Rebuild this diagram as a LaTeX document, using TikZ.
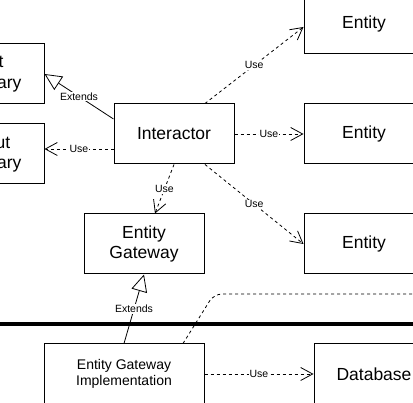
\documentclass[tikz,border=0pt]{standalone}
\usepackage{fontspec}
\setmainfont{Liberation Sans}
\usetikzlibrary{arrows.meta,calc}
\begin{document}
\begin{tikzpicture}[x=1pt,y=-1pt,
 box/.style={draw, line width=1pt, minimum width=120pt, minimum height=60pt, inner sep=0pt, align=center, font=\fontsize{17.5}{20.5}\selectfont},
 lbl/.style={fill=white, inner sep=1pt, font=\fontsize{10.5}{12}\selectfont},
 usearr/.style={line width=0.8pt, dash pattern=on 3pt off 3pt, -{Straight Barb[length=12pt,width=13pt,line width=0.8pt]}},
 extarr/.style={line width=0.8pt, -{Triangle[length=17pt,width=16pt,fill=white,line width=0.8pt]}},
 dashline/.style={line width=0.8pt, dash pattern=on 3pt off 3pt, rounded corners=8pt},
 sepline/.style={line width=3.5pt},
]
\useasboundingbox (0,0) rectangle (413,403);
\clip (0,0) rectangle (413,403);

\node[box] (inb) at (-16,74) {Input\\Boundary};
\node[box] (outb) at (-16,154) {Output\\Boundary};
\node[box] (inter) at (174,134) {Interactor};
\node[box] (ent1) at (364,24) {Entity};
\node[box] (ent2) at (364,134) {Entity};
\node[box] (ent3) at (364,244) {Entity};
\node[box] (eg) at (144,244) {Entity\\Gateway};
\node[box, minimum width=160pt, font=\fontsize{14}{16}\selectfont] (egi) at (124,374) {Entity Gateway\\Implementation};
\node[box] (db) at (374,374) {Database};

\coordinate (ou) at ($(inter.west)+(0,15)$);
\coordinate (bend) at (214,294);
\coordinate (far) at (440,294);
\coordinate (sepl) at (-10,324);
\coordinate (sepr) at (430,324);

\draw[extarr] ($(inter.west)+(0,-15)$) -- node[lbl]{Extends} (inb.east);
\draw[usearr] (ou) -- node[lbl]{Use} (ou -| outb.east);
\draw[usearr] ($(inter.north)+(31,0)$) -- node[lbl]{Use} ($(ent1.west)+(0,3)$);
\draw[usearr] (inter.east) -- node[lbl]{Use} (ent2.west);
\draw[usearr] ($(inter.south)+(31,0)$) -- node[lbl]{Use} (ent3.west);
\draw[usearr] (inter.south) -- node[lbl]{Use} ($(eg.north)+(11,0)$);
\draw[extarr] (egi.north) -- node[lbl]{Extends} (eg.south);
\draw[usearr] (egi.east) -- node[lbl]{Use} (db.west);
\draw[dashline] ($(egi.north)+(59,0)$) -- (bend) -- (far);
\draw[sepline] (sepl) -- (sepr);
\end{tikzpicture}
\end{document}
